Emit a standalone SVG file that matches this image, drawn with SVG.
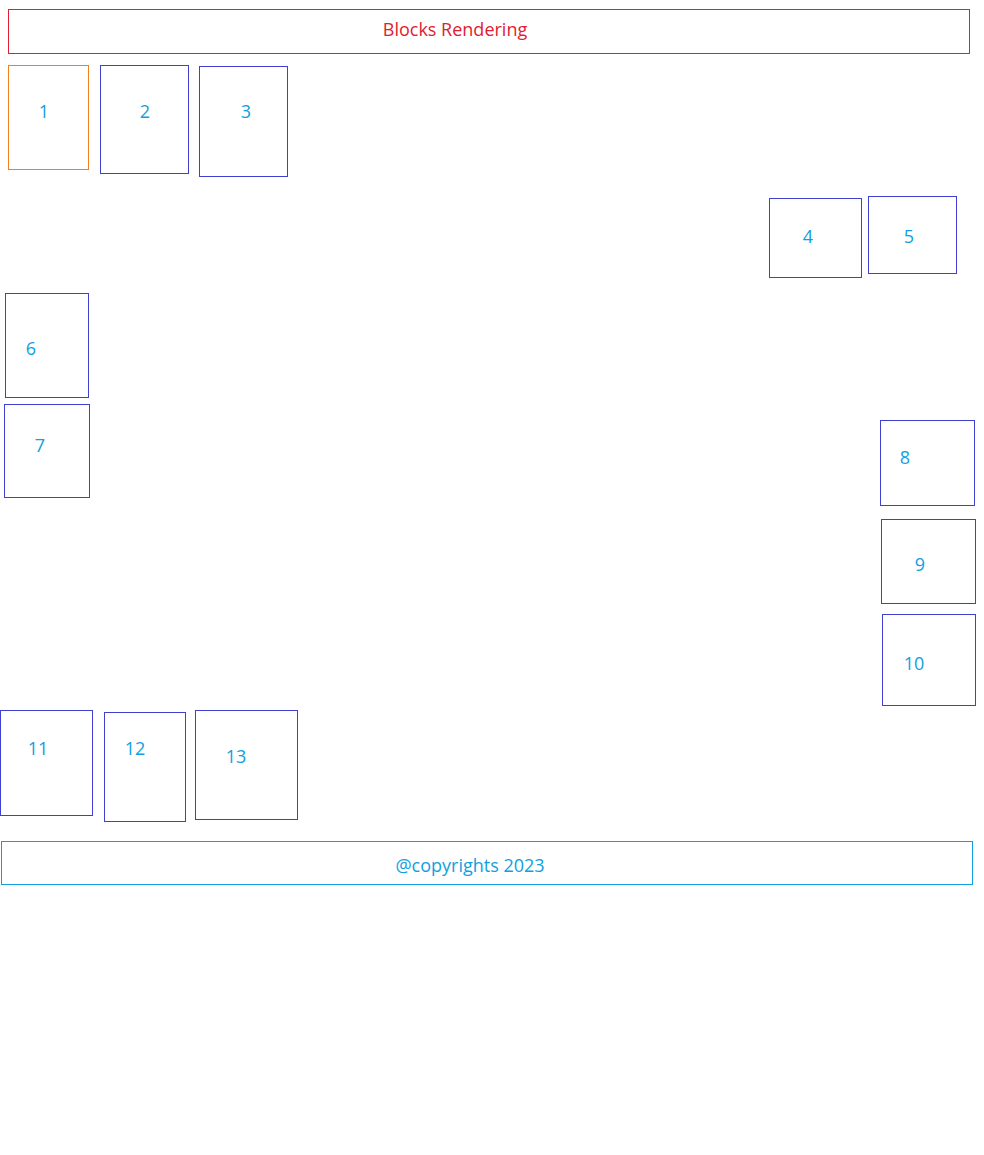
<svg xmlns="http://www.w3.org/2000/svg" width="984" height="1155" viewBox="0 0 984 1155">
<style>
rect{fill:#fff;stroke-width:1}
.b{stroke:#4040d0}
.t{font-family:"Open Sans","Noto Sans","Liberation Sans",sans-serif;font-size:18px;fill:#10a0e0;text-anchor:middle}
</style>
<rect x="0" y="0" width="984" height="1155" fill="#fff" stroke="none"/>
<g id="title"><rect x="8.5" y="9.5" width="961" height="44" stroke="#e02030"/><text class="t" x="455" y="36" style="fill:#e02030">Blocks Rendering</text></g>
<g id="n1"><rect x="8.5" y="65.5" width="80" height="104" stroke="#f08020"/><text class="t" x="44" y="118">1</text></g>
<g id="n2"><rect class="b" x="100.5" y="65.5" width="88" height="108"/><text class="t" x="145" y="118">2</text></g>
<g id="n3"><rect class="b" x="199.5" y="66.5" width="88" height="110"/><text class="t" x="246" y="118">3</text></g>
<g id="n4"><rect class="b" x="769.5" y="198.5" width="92" height="79"/><text class="t" x="808" y="243">4</text></g>
<g id="n5"><rect class="b" x="868.5" y="196.5" width="88" height="77"/><text class="t" x="909" y="243">5</text></g>
<g id="n6"><rect class="b" x="5.5" y="293.5" width="83" height="104"/><text class="t" x="31" y="355">6</text></g>
<g id="n7"><rect class="b" x="4.5" y="404.5" width="85" height="93"/><text class="t" x="40" y="452">7</text></g>
<g id="n8"><rect class="b" x="880.5" y="420.5" width="94" height="85"/><text class="t" x="905" y="464">8</text></g>
<g id="n9"><rect class="b" x="881.5" y="519.5" width="94" height="84"/><text class="t" x="920" y="571">9</text></g>
<g id="n10"><rect class="b" x="882.5" y="614.5" width="93" height="91"/><text class="t" x="914" y="670">10</text></g>
<g id="n11"><rect class="b" x="0.5" y="710.5" width="92" height="105"/><text class="t" x="38" y="755">11</text></g>
<g id="n12"><rect class="b" x="104.5" y="712.5" width="81" height="109"/><text class="t" x="135" y="755">12</text></g>
<g id="n13"><rect class="b" x="195.5" y="710.5" width="102" height="109"/><text class="t" x="236" y="763">13</text></g>
<g id="footer"><rect x="1.5" y="841.5" width="971" height="43" stroke="#10a0e0"/><text class="t" x="470" y="872">@copyrights 2023</text></g>
<g id="connectors"></g>
</svg>
